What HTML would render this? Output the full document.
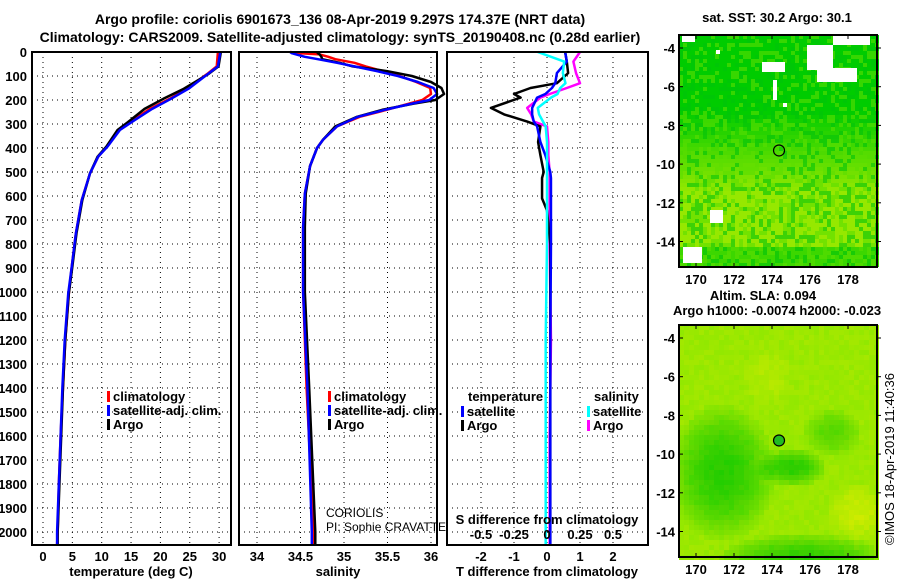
<!DOCTYPE html>
<html><head><meta charset="utf-8">
<style>
body{margin:0;background:#fff;width:900px;height:580px;overflow:hidden}
svg{display:block;font-family:"Liberation Sans",sans-serif}
.t{font-weight:bold;font-size:13px}
.ti{font-weight:bold;font-size:14px}
</style></head><body>
<svg id="fig" width="900" height="580" viewBox="0 0 900 580">
<text class="ti" x="340" y="24" text-anchor="middle">Argo profile: coriolis 6901673_136 08-Apr-2019 9.297S 174.37E (NRT data)</text>
<text class="ti" x="340" y="42" text-anchor="middle">Climatology: CARS2009. Satellite-adjusted climatology: synTS_20190408.nc (0.28d earlier)</text>
<g id="g1"></g>
<g id="g2"></g>
<g id="g3"></g>
<g id="m1"></g>
<g id="m2"></g>
<text class="t" x="777" y="22" text-anchor="middle">sat. SST: 30.2 Argo: 30.1</text>
<text class="t" x="763" y="300" text-anchor="middle">Altim. SLA: 0.094</text>
<text class="t" x="777" y="315" text-anchor="middle">Argo h1000: -0.0074 h2000: -0.023</text>
<text x="894" y="545" font-size="13" transform="rotate(-90 894 545)">©IMOS 18-Apr-2019 11:40:36</text>
</svg>
<script>
// ---- data ----
const depthTicks=[0,100,200,300,400,500,600,700,800,900,1000,1100,1200,1300,1400,1500,1600,1700,1800,1900,2000];
const tempTicks=[0,5,10,15,20,25,30];
const salTicks=[34,34.5,35,35.5,36];
const tdTicks=[-2,-1,0,1,2];
const sdTicks=[-0.5,-0.25,0,0.25,0.5];
const tempDepth=[0,60,93,153,195,237,284,325,394,436,506,617,756,894,1006,1200,1400,1600,1800,2000,2050];
const tempClim=[29.8,29.6,27.9,24.5,21.6,18.2,15.3,12.9,10.9,9.4,8.0,6.6,5.6,4.9,4.4,3.8,3.4,3.0,2.7,2.5,2.4];
const tempSat=[30.2,29.8,28.0,24.8,21.8,18.6,15.6,13.1,11.0,9.4,8.0,6.6,5.6,4.9,4.3,3.7,3.3,3.0,2.7,2.4,2.4];
const tempArgo=[30.3,29.9,28.1,24.0,20.5,17.3,14.9,12.7,10.8,9.3,8.0,6.7,5.7,5.0,4.4,3.8,3.4,3.1,2.8,2.5,2.5];
const salDepth=[0,5,10,20,30,45,60,80,100,125,150,175,200,215,240,270,310,365,400,475,590,730,1000,1400,2000,2050];
const salClim=[34.38,34.5,34.72,34.82,34.9,35.12,35.25,35.45,35.64,35.83,35.99,36.0,35.9,35.75,35.5,35.18,34.92,34.76,34.69,34.61,34.55,34.53,34.53,34.57,34.65,34.65];
const salSat=[34.38,34.4,34.45,34.55,34.7,34.92,35.12,35.38,35.62,35.85,36.03,36.07,35.98,35.78,35.48,35.16,34.92,34.76,34.69,34.61,34.55,34.53,34.53,34.58,34.63,34.63];
const salArgo=[34.69,34.7,34.72,34.74,34.75,34.95,35.1,35.5,35.78,36.0,36.12,36.15,36.05,35.8,35.45,35.15,34.9,34.76,34.69,34.61,34.56,34.55,34.55,34.6,34.67,34.67];
const diffDepth=[0,40,88,130,150,175,190,233,260,290,310,375,430,500,525,610,660,800,1200,1600,2050];
const tdArgo=[0.55,0.6,0.64,0.3,-0.5,-1.0,-0.8,-1.7,-1.3,-0.6,-0.2,-0.27,-0.2,-0.1,-0.15,-0.15,0,0.1,0.1,0.1,0.1];
const tdSat=[0.55,0.6,0.3,0.25,0.15,-0.05,-0.3,-0.45,-0.45,-0.4,-0.3,-0.2,-0.05,0.1,0.12,0.12,0.12,0.12,0.1,0.1,0.1];
const sdArgo=[0.25,0.2,0.22,0.25,0.15,0.02,-0.05,-0.15,-0.12,-0.1,0,0.01,0.01,0.02,0.02,0.02,0.02,0.02,0.03,0.02,0.02];
const sdSat=[-0.07,0.13,0.12,0.14,0.1,0.08,0.03,-0.07,-0.06,-0.03,-0.01,0,0,0,0,0,0,0,-0.01,-0.01,-0.01];
const latTicks=[-4,-6,-8,-10,-12,-14];
const lonTicks=[170,172,174,176,178];
const argoLon=174.37, argoLat=-9.297;

// ---- helpers ----
const NS='http://www.w3.org/2000/svg';
function mk(p,tag,at){const e=document.createElementNS(NS,tag);for(const k in at)e.setAttribute(k,at[k]);p.appendChild(e);return e;}
const yD=d=>52+d*0.24;
const PT=52,PB=545;
function frame(g,x0,x1){
  mk(g,'rect',{x:x0,y:PT,width:x1-x0,height:PB-PT,fill:'none',stroke:'#000','stroke-width':2});
}
function grid(g,x0,x1,xs,fx){
  depthTicks.forEach(d=>{const l=mk(g,'line',{x1:x0,x2:x1,y1:yD(d),y2:yD(d),stroke:'#000','stroke-dasharray':'1 4'});
    });
  xs.forEach(v=>{const x=fx(v);const l=mk(g,'line',{x1:x,x2:x,y1:PT,y2:PB,stroke:'#000','stroke-dasharray':'1 4'});
    });
}
function line(g,xs,ds,fx,col,name,w){
  const p=mk(g,'polyline',{points:xs.map((v,i)=>fx(v)+','+yD(ds[i])).join(' '),fill:'none',stroke:col,'stroke-width':w||2.5,'stroke-linejoin':'round'});
  
}
function txt(g,x,y,s,cls,anchor,name){const t=mk(g,'text',{x:x,y:y,'text-anchor':anchor||'start'});if(cls)t.setAttribute('class',cls);t.textContent=s;
  return t;}
function legend(g,x,y,col,label,name){
  const r=mk(g,'rect',{x:x,y:y-10,width:3,height:11,fill:col});
  txt(g,x+6,y,label,'t','start',name);
}

// ---- panel 1: temperature ----
const g1=document.getElementById('g1');
const fT=v=>43+v*5.87;
grid(g1,32,231,tempTicks,fT);
line(g1,tempClim,tempDepth,fT,'#f00','temp-climatology-line');
line(g1,tempArgo,tempDepth,fT,'#000','temp-argo-line');
line(g1,tempSat,tempDepth,fT,'#00f','temp-satellite-line');
frame(g1,32,231);
depthTicks.forEach(d=>txt(g1,27,yD(d)+5,String(d),'t','end','depth-tick-label'));
tempTicks.forEach(v=>txt(g1,fT(v),561,String(v),'t','middle','temp-tick-label'));
txt(g1,131,576,'temperature (deg C)','t','middle','temp-axis-title');
legend(g1,107,401,'#f00','climatology','legend-climatology');
legend(g1,107,415,'#00f','satellite-adj. clim.','legend-satellite');
legend(g1,107,429,'#000','Argo','legend-argo');

// ---- panel 2: salinity ----
const g2=document.getElementById('g2');
const fS=v=>257+(v-34)*87;
grid(g2,239,437,salTicks,fS);
line(g2,salClim,salDepth,fS,'#f00','sal-climatology-line');
line(g2,salArgo,salDepth,fS,'#000','sal-argo-line');
line(g2,salSat,salDepth,fS,'#00f','sal-satellite-line');
frame(g2,239,437);
salTicks.forEach(v=>txt(g2,fS(v),561,String(v),'t','middle','sal-tick-label'));
txt(g2,338,576,'salinity','t','middle','sal-axis-title');
legend(g2,328,401,'#f00','climatology','legend-sal-climatology');
legend(g2,328,415,'#00f','satellite-adj. clim.','legend-sal-satellite');
legend(g2,328,429,'#000','Argo','legend-sal-argo');
const c1=txt(g2,326,517,'CORIOLIS',null,'start','institution-label');c1.setAttribute('font-size','12');
const c2=txt(g2,326,531,'PI: Sophie CRAVATTE',null,'start','pi-label');c2.setAttribute('font-size','12');

// ---- panel 3: differences ----
const g3=document.getElementById('g3');
const fTd=v=>547+v*33;
const fSd=v=>547+v*132;
grid(g3,447,648,tdTicks,fTd);
line(g3,sdArgo,diffDepth,fSd,'#f0f','sal-argo-diff-line');
line(g3,tdArgo,diffDepth,fTd,'#000','temp-argo-diff-line');
line(g3,tdSat,diffDepth,fTd,'#00f','temp-sat-diff-line');
line(g3,sdSat,diffDepth,fSd,'#0ff','sal-sat-diff-line');
frame(g3,447,648);
tdTicks.forEach(v=>txt(g3,fTd(v),561,String(v),'t','middle','tdiff-tick-label'));
sdTicks.forEach(v=>txt(g3,fSd(v),539,String(v),'t','middle','sdiff-tick-label'));
txt(g3,547,524,'S difference from climatology','t','middle','sdiff-axis-title');
txt(g3,547,576,'T difference from climatology','t','middle','tdiff-axis-title');
txt(g3,468,401,'temperature','t','start','legend-temperature-heading');
legend(g3,461,416,'#00f','satellite','legend-t-satellite');
legend(g3,461,430,'#000','Argo','legend-t-argo');
txt(g3,594,401,'salinity','t','start','legend-salinity-heading');
legend(g3,587,416,'#0ff','satellite','legend-s-satellite');
legend(g3,587,430,'#f0f','Argo','legend-s-argo');

// ---- maps ----
function hash(i,j){let h=(i*374761393+j*668265263)>>>0;h=(h^(h>>>13))*1274126177>>>0;return ((h^(h>>>16))>>>0)/4294967296;}
function mix(a,b,t){return a.map((v,k)=>Math.round(v+(b[k]-v)*t));}
function drawMap(g,top,bot,lat0y,colorFn,cell,whites,dotFill){
  const x0=679,x1=877;
  const fx=lon=>696+(lon-170)*19, fy=lat=>lat0y+(-4-lat)*19.35;
  const cg=mk(g,'g',{});
  for(let y=top;y<bot;y+=cell)for(let x=x0;x<x1;x+=cell){
    const c=colorFn(x,y,hash(x,y));
    mk(cg,'rect',{x:x,y:y,width:cell,height:cell,fill:'rgb('+c.join(',')+')'});
  }
  whites.forEach(w=>mk(cg,'rect',{x:w[0],y:w[1],width:w[2],height:w[3],fill:'#fff'}));
  mk(g,'rect',{x:x0,y:top,width:x1-x0,height:bot-top,fill:'none',stroke:'#000','stroke-width':2});
  latTicks.forEach(l=>{const y=fy(l);
    mk(g,'line',{x1:x0,x2:x0+4,y1:y,y2:y,stroke:'#000'});mk(g,'line',{x1:x1,x2:x1+4,y1:y,y2:y,stroke:'#000'});
    txt(g,675,y+5,String(l),'t','end','lat-tick-label');});
  lonTicks.forEach(l=>{const x=fx(l);
    mk(g,'line',{x1:x,x2:x,y1:top,y2:top+4,stroke:'#000'});mk(g,'line',{x1:x,x2:x,y1:bot,y2:bot-4,stroke:'#000'});
    txt(g,x,bot+17,String(l),'t','middle','lon-tick-label');});
  const c=mk(g,'circle',{cx:fx(argoLon),cy:fy(argoLat),r:5.5,fill:dotFill,stroke:'#000','stroke-width':1.2});
  
}
const m1=document.getElementById('m1');
drawMap(m1,35,267,48,(x,y,r)=>{
  let t=Math.min(1,Math.max(0,(y-110)/80));
  if(y>245)t*=0.4;
  let c=mix([0,204,0],[150,232,0],t);
  if(r>0.7)c=mix(c,[90,222,0],0.6);else if(r<0.25)c=mix(c,[0,195,10],0.6);
  return c;
},4,[[682,35,13,7],[833,36,37,9],[762,62,23,10],[773,80,4,20],[807,45,26,25],[817,68,40,14],[710,210,13,13],[683,247,19,16],[783,103,4,4],[716,50,4,4]],'none');
const m2=document.getElementById('m2');
drawMap(m2,325,557,338,(x,y,r)=>{
  let c=[155,232,0];
  const blob=(cx,cy,rx,ry)=>Math.max(0,1-((x-cx)/rx)**2-((y-cy)/ry)**2);
  let g=Math.min(1,blob(720,470,55,70)+blob(790,465,35,20)+blob(830,430,30,25)*0.6+blob(800,560,90,30));
  c=mix(c,[40,205,0],g);
  c=mix(c,[200,235,0],Math.min(1,blob(855,510,30,30)+blob(765,375,25,30)*0.5));
  c=mix(c,[c[0]+(r-0.5)*20,c[1],0],1);
  return c.map(v=>Math.max(0,Math.min(255,v)));
},5,[],'#22bb22');
</script>
</body></html>
